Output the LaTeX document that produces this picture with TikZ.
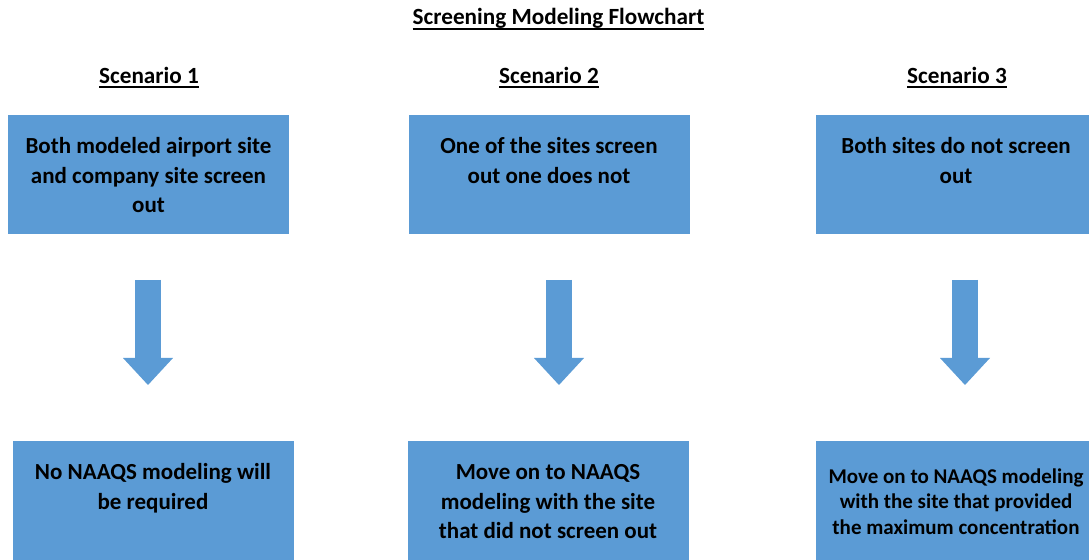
\documentclass[tikz,border=0pt]{standalone}
\usepackage{fontspec}
\setmainfont{Carlito}
\usetikzlibrary{arrows.meta,calc,positioning}
\definecolor{boxblue}{HTML}{5B9BD5}
\newcommand{\ultext}[1]{\setbox0\hbox{#1}\rlap{\rule[-2.4pt]{\wd0}{0.9pt}}\box0}
\newcommand{\boxtext}[2][8.8pt]{\parbox[c][59pt][t]{140pt}{\centering\vspace*{#1}\strut#2}}

\begin{document}
\begin{tikzpicture}[x=0.5pt,y=-0.5pt,
box/.style={rectangle,fill=boxblue,draw=boxblue,inner sep=0pt,anchor=north,
font=\bfseries\fontsize{11.5}{14.75}\selectfont},
heading/.style={anchor=base,font=\bfseries\fontsize{11.6}{14}\selectfont},
blockarrow/.style={draw=boxblue,line width=13pt,
-{Triangle[width=25pt,length=13.5pt,line width=0pt]}},
]
\useasboundingbox (0,0) rectangle (1089,560);
% headings
\node[heading] (title) at (558.5,25) {\ultext{Screening Modeling Flowchart}};
\node[heading] (sc1) at (149,83.3) {\ultext{Scenario 1}};
\node[heading] (sc2) at (549,83.3) {\ultext{Scenario 2}};
\node[heading] (sc3) at (957,83.3) {\ultext{Scenario 3}};
% screening result
\node[box] (s1) at (148.5,115) {\boxtext{Both modeled airport site\\ and company site screen\\ out}};
\node[box] (s2) at (549,115) {\boxtext{One of the sites screen\\ out one does not}};
\node[box] (s3) at (956,115) {\boxtext{Both sites do not screen\\ out}};
% next step
\node[box] (r1) at (153,441) {\boxtext{No NAAQS modeling will\\ be required}};
\node[box] (r2) at (548,441) {\boxtext{Move on to NAAQS\\ modeling with the site\\ that did not screen out}};
\node[box,font=\bfseries\fontsize{10.5}{12.75}\selectfont] (r3) at (956,441)
{\boxtext[11.9pt]{Move on to NAAQS modeling\\ with the site that provided\\ the maximum concentration}};
% block arrows
\foreach \i/\dx in {1/-0.5,2/10,3/9}
\draw[blockarrow] ($(s\i.south)+(\dx,46)$) -- ($(s\i.south |- r\i.north)+(\dx,-56)$);
\end{tikzpicture}
\end{document}
